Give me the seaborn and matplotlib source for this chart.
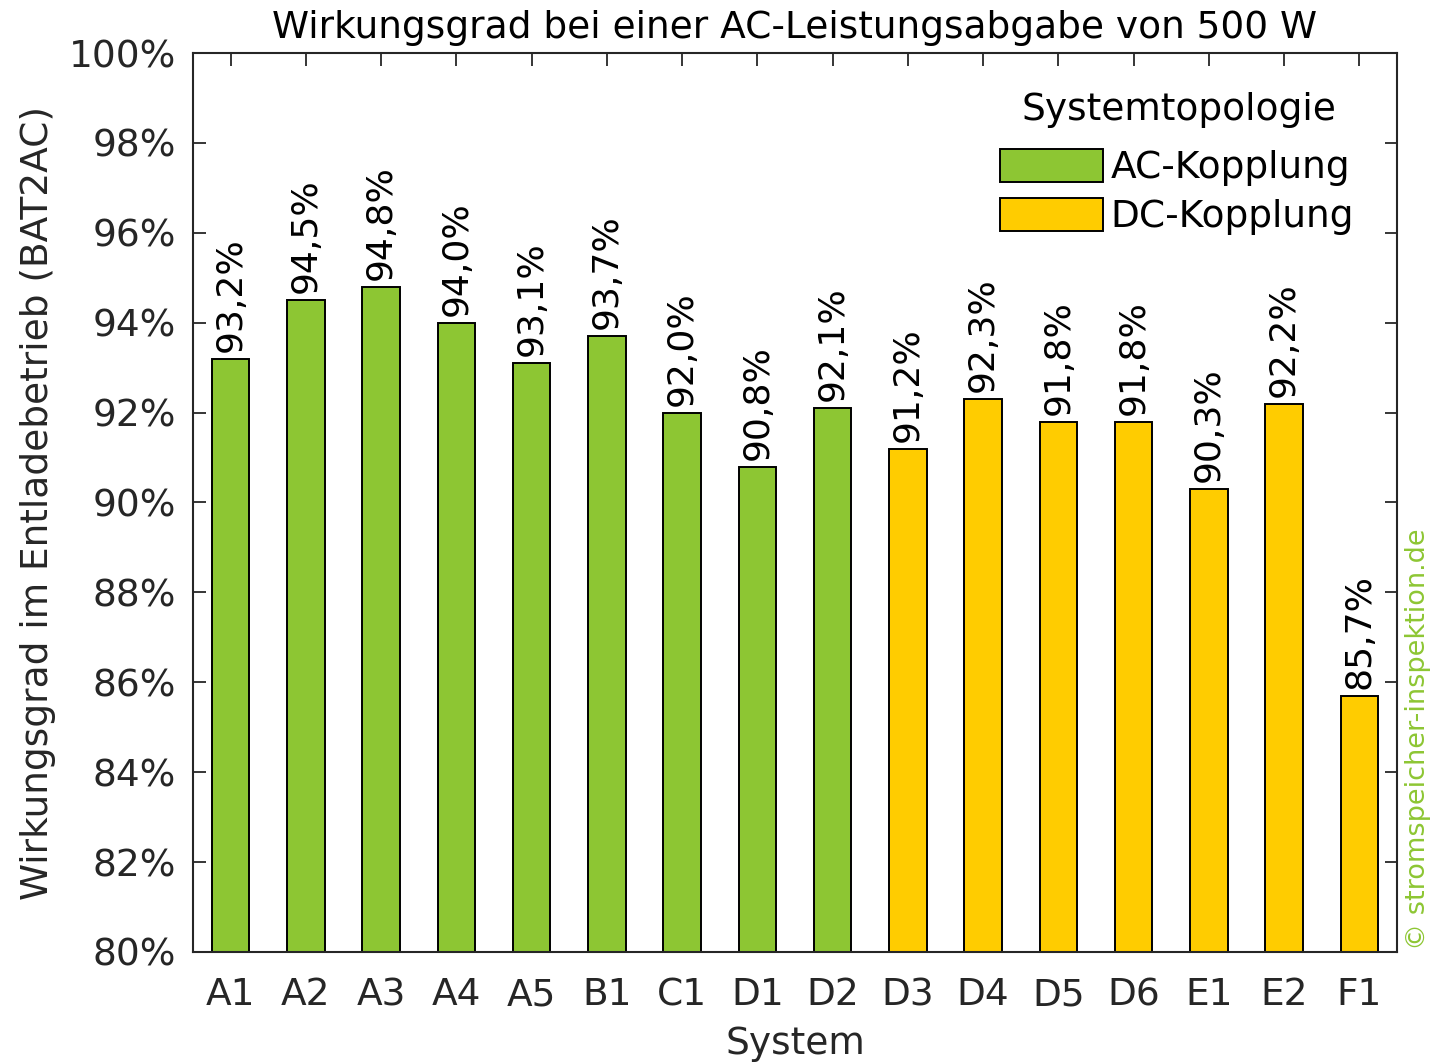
import matplotlib
matplotlib.use("Agg")
import matplotlib.pyplot as plt
import seaborn as sns
import pandas as pd
from matplotlib.ticker import FuncFormatter, MultipleLocator
from matplotlib.patches import Patch

# Systems and their discharge efficiency at 500 W AC output
systems = ["A1", "A2", "A3", "A4", "A5", "B1", "C1", "D1", "D2",
           "D3", "D4", "D5", "D6", "E1", "E2", "F1"]
efficiency = [93.2, 94.5, 94.8, 94.0, 93.1, 93.7, 92.0, 90.8, 92.1,
              91.2, 92.3, 91.8, 91.8, 90.3, 92.2, 85.7]
topology = ["AC-Kopplung"] * 9 + ["DC-Kopplung"] * 7
topology_names = ["AC-Kopplung", "DC-Kopplung"]

GREEN = "#8dc633"
YELLOW = "#ffcc00"
TEXT = "#262626"
FS = 27

df = pd.DataFrame({"System": systems, "Wirkungsgrad": efficiency, "Topologie": topology})

sns.set_theme(style="ticks")
plt.rcParams["font.family"] = ["DejaVu Sans"]

fig = plt.figure(figsize=(14.34, 10.63), dpi=100)
ax = fig.add_axes([193 / 1434, 1 - 952 / 1063, (1397 - 193) / 1434, (952 - 53) / 1063])

sns.barplot(data=df, x="System", y="Wirkungsgrad", hue="Topologie", dodge=False,
            palette={"AC-Kopplung": GREEN, "DC-Kopplung": YELLOW}, saturation=1,
            width=0.5, edgecolor="black", linewidth=1.4, ax=ax, legend=False)

ax.set_ylim(80, 100)
ax.set_xlim(-0.5, len(systems) - 0.5)
ax.yaxis.set_major_locator(MultipleLocator(2))
ax.yaxis.set_major_formatter(FuncFormatter(lambda v, p: f"{v:.0f}%"))

for i, v in enumerate(efficiency):
    ax.annotate(f"{v:.1f}%".replace(".", ","), xy=(i, v), xytext=(0, 5),
                textcoords="offset points", rotation=90, ha="center", va="bottom",
                fontsize=26, color="black")

for sp in ax.spines.values():
    sp.set_visible(True)
    sp.set_color(TEXT)
    sp.set_linewidth(1.5)

ax.tick_params(direction="in", length=9, width=1.3, colors=TEXT, labelsize=FS,
               top=True, right=True, pad=12)
ax.tick_params(axis="x", pad=18)

ax.set_title("Wirkungsgrad bei einer AC-Leistungsabgabe von 500 W", fontsize=FS,
             color="black", pad=11)
ax.set_xlabel("System", fontsize=FS, color=TEXT, labelpad=9)
ax.set_ylabel("Wirkungsgrad im Entladebetrieb (BAT2AC)", fontsize=FS, color=TEXT, labelpad=9)

# Legend entries, with the heading set as a separate text above them
handles = [Patch(facecolor=GREEN, edgecolor="black", linewidth=1.4),
           Patch(facecolor=YELLOW, edgecolor="black", linewidth=1.4)]
leg = ax.legend(handles, topology_names, loc="upper right",
                bbox_to_anchor=(0.9926, 0.931), frameon=False, fontsize=FS,
                handlelength=2.75, handleheight=1.0, handletextpad=0.2, labelspacing=0.3)
for t in leg.get_texts():
    t.set_color("black")
fig.text(1179 / 1434, 1 - 110 / 1063, "Systemtopologie", ha="center", va="center",
         fontsize=FS, color="black")

fig.text(1418 / 1434, 1 - 950 / 1063, "© stromspeicher-inspektion.de", rotation=90,
         ha="center", va="bottom", fontsize=19.5, color=GREEN)

fig.savefig("out.png", dpi=100)
